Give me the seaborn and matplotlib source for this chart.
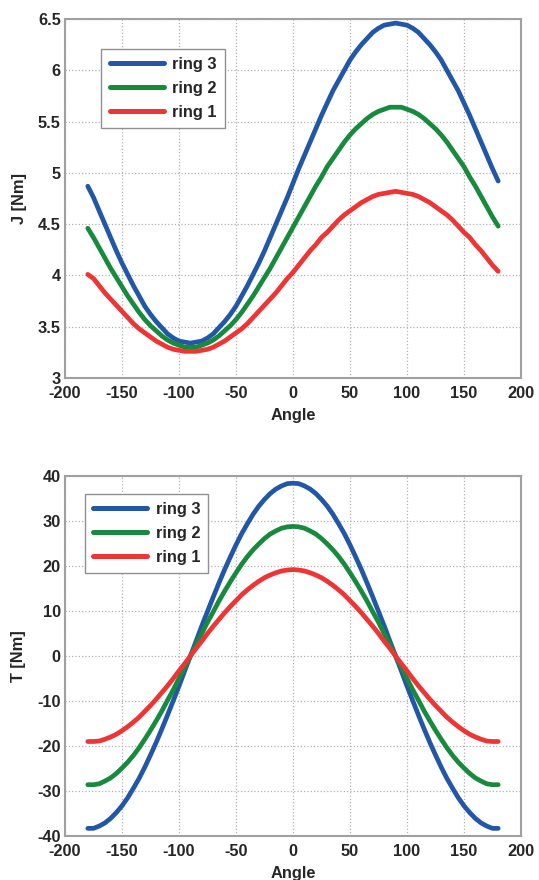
import numpy as np
import pandas as pd
import matplotlib
matplotlib.use("Agg")
import matplotlib.pyplot as plt
import seaborn as sns

angles = list(range(-180, 181, 5))

J_ring3 = [4.87, 4.76, 4.63, 4.50, 4.37, 4.24, 4.12, 4.01, 3.90, 3.80,
           3.70, 3.62, 3.55, 3.49, 3.43, 3.39, 3.36, 3.35, 3.34,
           3.35, 3.36, 3.39, 3.43, 3.49, 3.55, 3.62, 3.70, 3.80,
           3.90, 4.01, 4.12, 4.24, 4.37, 4.50, 4.63, 4.76, 4.90,
           5.04, 5.17, 5.30, 5.43, 5.56, 5.68, 5.80, 5.90, 6.00,
           6.10, 6.18, 6.25, 6.31, 6.37, 6.41, 6.44, 6.45, 6.46,
           6.45, 6.44, 6.41, 6.37, 6.31, 6.25, 6.18, 6.10, 6.00,
           5.90, 5.80, 5.68, 5.56, 5.43, 5.30, 5.17, 5.04, 4.92]
J_ring2 = [4.46, 4.37, 4.27, 4.17, 4.07, 3.98, 3.89, 3.80, 3.72, 3.64,
           3.57, 3.51, 3.46, 3.41, 3.37, 3.34, 3.32, 3.30, 3.30,
           3.30, 3.32, 3.34, 3.37, 3.41, 3.46, 3.51, 3.57, 3.64,
           3.72, 3.80, 3.89, 3.98, 4.07, 4.17, 4.27, 4.37, 4.47,
           4.57, 4.67, 4.77, 4.87, 4.96, 5.06, 5.14, 5.22, 5.30,
           5.37, 5.43, 5.48, 5.53, 5.57, 5.60, 5.62, 5.64, 5.64,
           5.64, 5.62, 5.60, 5.57, 5.53, 5.48, 5.43, 5.37, 5.30,
           5.22, 5.14, 5.06, 4.96, 4.87, 4.77, 4.67, 4.57, 4.48]
J_ring1 = [4.01, 3.97, 3.90, 3.83, 3.77, 3.71, 3.65, 3.59, 3.53, 3.48,
           3.44, 3.40, 3.36, 3.33, 3.30, 3.28, 3.27, 3.26, 3.26,
           3.26, 3.27, 3.28, 3.30, 3.33, 3.36, 3.40, 3.44, 3.48,
           3.53, 3.59, 3.65, 3.71, 3.77, 3.83, 3.90, 3.97, 4.03,
           4.10, 4.17, 4.24, 4.30, 4.37, 4.42, 4.48, 4.54, 4.59,
           4.63, 4.67, 4.71, 4.74, 4.77, 4.79, 4.80, 4.81, 4.82,
           4.81, 4.80, 4.79, 4.77, 4.74, 4.71, 4.67, 4.63, 4.59,
           4.54, 4.48, 4.42, 4.37, 4.30, 4.24, 4.17, 4.10, 4.04]

T_ring3 = [-38.3, -38.3, -37.8, -37.1, -36.1, -34.8, -33.3, -31.5, -29.4, -27.2,
           -24.7, -22.0, -19.2, -16.2, -13.1, -9.9, -6.7, -3.3, 0.0,
           3.3, 6.7, 9.9, 13.1, 16.2, 19.2, 22.0, 24.7, 27.2,
           29.4, 31.5, 33.3, 34.8, 36.1, 37.1, 37.8, 38.3, 38.4,
           38.3, 37.8, 37.1, 36.1, 34.8, 33.3, 31.5, 29.4, 27.2,
           24.7, 22.0, 19.2, 16.2, 13.1, 9.9, 6.7, 3.3, 0.0,
           -3.3, -6.7, -9.9, -13.1, -16.2, -19.2, -22.0, -24.7, -27.2,
           -29.4, -31.5, -33.3, -34.8, -36.1, -37.1, -37.8, -38.3, -38.3]
T_ring2 = [-28.6, -28.6, -28.4, -27.8, -27.1, -26.1, -24.9, -23.6, -22.1, -20.4,
           -18.5, -16.5, -14.4, -12.2, -9.8, -7.5, -5.0, -2.5, 0.0,
           2.5, 5.0, 7.5, 9.8, 12.2, 14.4, 16.5, 18.5, 20.4,
           22.1, 23.6, 24.9, 26.1, 27.1, 27.8, 28.4, 28.7, 28.8,
           28.7, 28.4, 27.8, 27.1, 26.1, 24.9, 23.6, 22.1, 20.4,
           18.5, 16.5, 14.4, 12.2, 9.8, 7.5, 5.0, 2.5, 0.0,
           -2.5, -5.0, -7.5, -9.8, -12.2, -14.4, -16.5, -18.5, -20.4,
           -22.1, -23.6, -24.9, -26.1, -27.1, -27.8, -28.4, -28.6, -28.6]
T_ring1 = [-19.0, -19.0, -18.9, -18.5, -18.0, -17.4, -16.6, -15.7, -14.7, -13.6,
           -12.3, -11.0, -9.6, -8.1, -6.6, -5.0, -3.3, -1.7, 0.0,
           1.7, 3.3, 5.0, 6.6, 8.1, 9.6, 11.0, 12.3, 13.6,
           14.7, 15.7, 16.6, 17.4, 18.0, 18.5, 18.9, 19.1, 19.2,
           19.1, 18.9, 18.5, 18.0, 17.4, 16.6, 15.7, 14.7, 13.6,
           12.3, 11.0, 9.6, 8.1, 6.6, 5.0, 3.3, 1.7, 0.0,
           -1.7, -3.3, -5.0, -6.6, -8.1, -9.6, -11.0, -12.3, -13.6,
           -14.7, -15.7, -16.6, -17.4, -18.0, -18.5, -18.9, -19.0, -19.0]

series_names = ["ring 3", "ring 2", "ring 1"]
colors = {"ring 3": "#2257A8", "ring 2": "#178A3E", "ring 1": "#EE3535"}

x_ticks = [-200, -150, -100, -50, 0, 50, 100, 150, 200]
J_ticks = [3, 3.5, 4, 4.5, 5, 5.5, 6, 6.5]
J_ticklabels = ["3", "3.5", "4", "4.5", "5", "5.5", "6", "6.5"]
T_ticks = [-40, -30, -20, -10, 0, 10, 20, 30, 40]


def long_df(values):
    rows = []
    for name, vals in zip(series_names, values):
        for a, v in zip(angles, vals):
            rows.append({"Angle": a, "val": v, "ring": name})
    return pd.DataFrame(rows)


sns.set_style("whitegrid", {
    "grid.color": "#b8b8b8",
    "grid.linestyle": ":",
    "axes.edgecolor": "#a0a0a0",
})
plt.rcParams["font.family"] = ["Liberation Sans", "DejaVu Sans"]
plt.rcParams["font.weight"] = "bold"

FS = 11.8

fig = plt.figure(figsize=(5.39, 8.80), dpi=100)
ax1 = fig.add_axes([65 / 539, 1 - 378 / 880, 456 / 539, 359 / 880])
ax2 = fig.add_axes([65 / 539, 1 - 836 / 880, 456 / 539, 360 / 880])


def style(ax, ylabel, yticks, yticklabels, ylim, legend_anchor):
    ax.set_xlim(-200, 200)
    ax.set_ylim(*ylim)
    ax.set_xticks(x_ticks)
    ax.set_xticklabels([str(t) for t in x_ticks], fontsize=FS, fontweight="bold")
    ax.set_yticks(yticks)
    ax.set_yticklabels(yticklabels, fontsize=FS, fontweight="bold")
    ax.set_xlabel("Angle", fontsize=FS, fontweight="bold", labelpad=5)
    ax.set_ylabel(ylabel, fontsize=FS, fontweight="bold", labelpad=8)
    ax.grid(True, linestyle=":", color="#b0b0b0", linewidth=0.9)
    for sp in ax.spines.values():
        sp.set_color("#a0a0a0")
        sp.set_linewidth(1.5)
    ax.tick_params(axis="both", direction="in", length=3, color="#a0a0a0",
                   width=1)
    ax.tick_params(axis="x", pad=6)
    ax.tick_params(axis="y", pad=3)
    leg = ax.legend(loc="upper left", bbox_to_anchor=legend_anchor,
                    borderaxespad=0, fontsize=FS, frameon=True, fancybox=False,
                    handlelength=3.3, handletextpad=0.5, labelspacing=0.55,
                    borderpad=0.5, framealpha=1)
    leg.get_frame().set_edgecolor("#909090")
    leg.get_frame().set_linewidth(1.0)
    for t in leg.get_texts():
        t.set_fontweight("bold")
    for line in leg.get_lines():
        line.set_linewidth(3.6)


dfJ = long_df([J_ring3, J_ring2, J_ring1])
sns.lineplot(data=dfJ, x="Angle", y="val", hue="ring", hue_order=series_names,
             palette=colors, linewidth=3.4, ax=ax1, sort=False)
style(ax1, "J [Nm]", J_ticks, J_ticklabels, (3, 6.5), (0.08, 0.917))

dfT = long_df([T_ring3, T_ring2, T_ring1])
sns.lineplot(data=dfT, x="Angle", y="val", hue="ring", hue_order=series_names,
             palette=colors, linewidth=3.4, ax=ax2, sort=False)
style(ax2, "T [Nm]", T_ticks, [str(t) for t in T_ticks], (-40, 40), (0.044, 0.95))

fig.savefig("out.png", dpi=100)
